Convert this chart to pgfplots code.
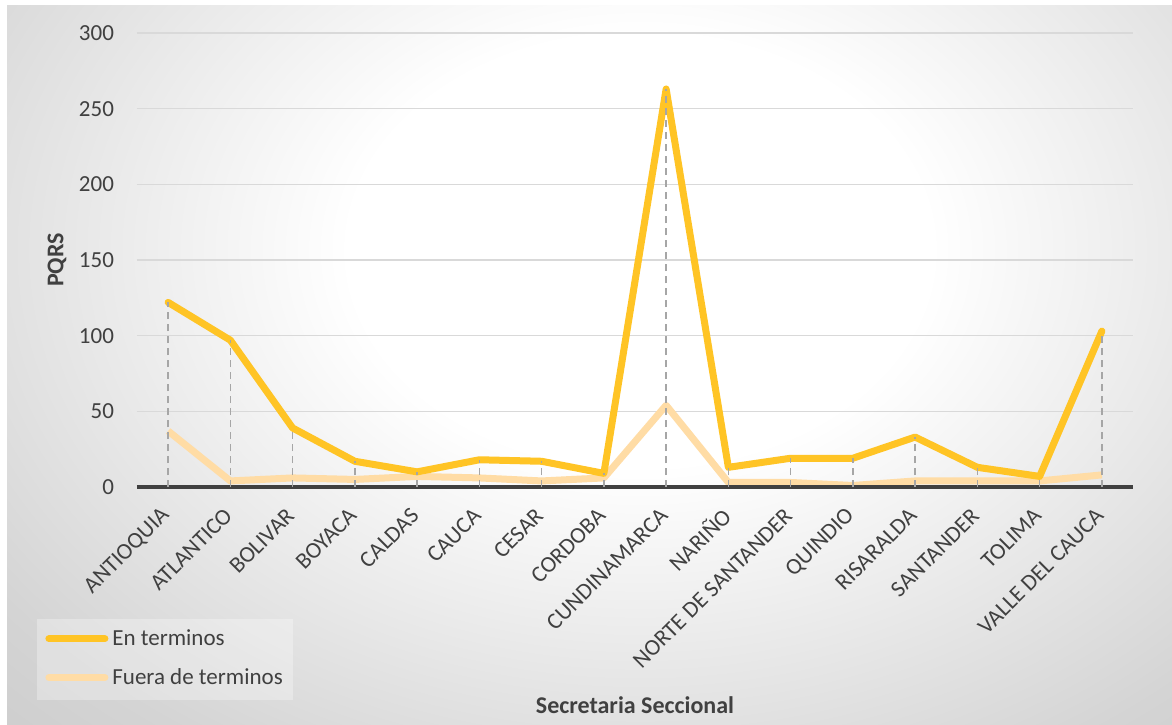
\documentclass[border=0pt]{standalone}
\usepackage{pgfplots}
\pgfplotsset{compat=1.18}
\usepackage{fontspec}
\setmainfont{Carlito}
\definecolor{enc}{HTML}{FFC425}
\definecolor{fue}{HTML}{FFDCA5}
\definecolor{drop}{HTML}{A6A6A6}
\definecolor{gridc}{HTML}{D9D9D9}
\definecolor{txt}{HTML}{404040}
\definecolor{bgA}{HTML}{D4D4D4}
\definecolor{bgB}{HTML}{C4C4C4}
\pgfdeclareradialshading{bgshade}{\pgfpoint{0bp}{0bp}}{color(0bp)=(white); color(11bp)=(white); color(30bp)=(bgA); color(42bp)=(bgB); color(50bp)=(bgB)}
\begin{document}
\begin{tikzpicture}
\useasboundingbox (0,0) rectangle (586pt,362pt);
\fill[white] (0,0) rectangle (586pt,362pt);
\begin{scope}
\clip (3.5pt,0pt) rectangle (586pt,359pt);
\shade[shading=bgshade] (-10pt,-8pt) rectangle (650pt,482pt);
\end{scope}
\fill[white, opacity=0.3] (18.5pt,12pt) rectangle (146.5pt,52.5pt);
\begin{axis}[
  at={(68.5pt,118.5pt)}, anchor=south west,
  scale only axis, width=498pt, height=227pt,
  xmin=-0.5, xmax=15.5, ymin=0, ymax=300,
  clip=false,
  axis line style={draw=none},
  major tick length=0pt,
  ytick={0,50,...,300},
  xtick={0,...,15},
  xticklabels={ANTIOQUIA,ATLANTICO,BOLIVAR,BOYACA,CALDAS,CAUCA,CESAR,CORDOBA,CUNDINAMARCA,NARIÑO,NORTE DE SANTANDER,QUINDIO,RISARALDA,SANTANDER,TOLIMA,VALLE DEL CAUCA},
  xticklabel style={xshift=-1pt, yshift=-12.5pt, rotate=45, anchor=east, inner sep=0pt, font=\fontsize{11.5}{13}\selectfont, text=txt},
  yticklabel style={font=\fontsize{11.5}{13}\selectfont, text=txt, xshift=-8pt},
  /pgf/number format/assume math mode=true,
  ymajorgrids, grid style={gridc, line width=0.75pt},
  xlabel={Secretaria Seccional},
  xlabel style={at={(axis description cs:0.5,-0.48)}, anchor=center, font=\bfseries\fontsize{12}{14}\selectfont, text=txt},
  ylabel={PQRS},
  ylabel style={at={(axis description cs:-0.0803,0.5)}, anchor=center, rotate=0, font=\bfseries\fontsize{12}{14}\selectfont, text=txt},
  legend style={at={(axis description cs:-0.1004,-0.2907)}, anchor=north west, draw=none, fill=none,
    font=\fontsize{11.5}{13}\selectfont, text=txt, inner xsep=4pt, inner ysep=3pt, row sep=6pt,
    cells={anchor=west}},
  legend image code/.code={\draw[#1, line cap=round] (0pt,0pt) -- (28pt,0pt);},
]
\addplot[fue, line width=3.5pt, line join=round, forget plot] coordinates {
(0,37) (1,4) (2,6) (3,5) (4,7) (5,6) (6,4) (7,6) (8,54) (9,3) (10,3) (11,1) (12,4) (13,4) (14,4) (15,8)};
\addplot[enc, line width=3.5pt, line join=round, line cap=round, forget plot] coordinates {
(0,122) (1,97) (2,39) (3,17) (4,10) (5,18) (6,17) (7,9) (8,263) (9,13) (10,19) (11,19) (12,33) (13,13) (14,7) (15,103)};
\draw[txt, line width=2pt] (axis cs:-0.5,0) -- (axis cs:15.5,0);
\addplot[ycomb, drop, line width=0.75pt, dash pattern=on 3.5pt off 2.5pt, forget plot] coordinates {
(0,122) (1,97) (2,39) (3,17) (4,10) (5,18) (6,17) (7,9) (8,263) (9,13) (10,19) (11,19) (12,33) (13,13) (14,7) (15,103)};
\addlegendimage{enc, line width=3.5pt}
\addlegendentry{En terminos}
\addlegendimage{fue, line width=3.5pt}
\addlegendentry{Fuera de terminos}
\end{axis}
\end{tikzpicture}
\end{document}
